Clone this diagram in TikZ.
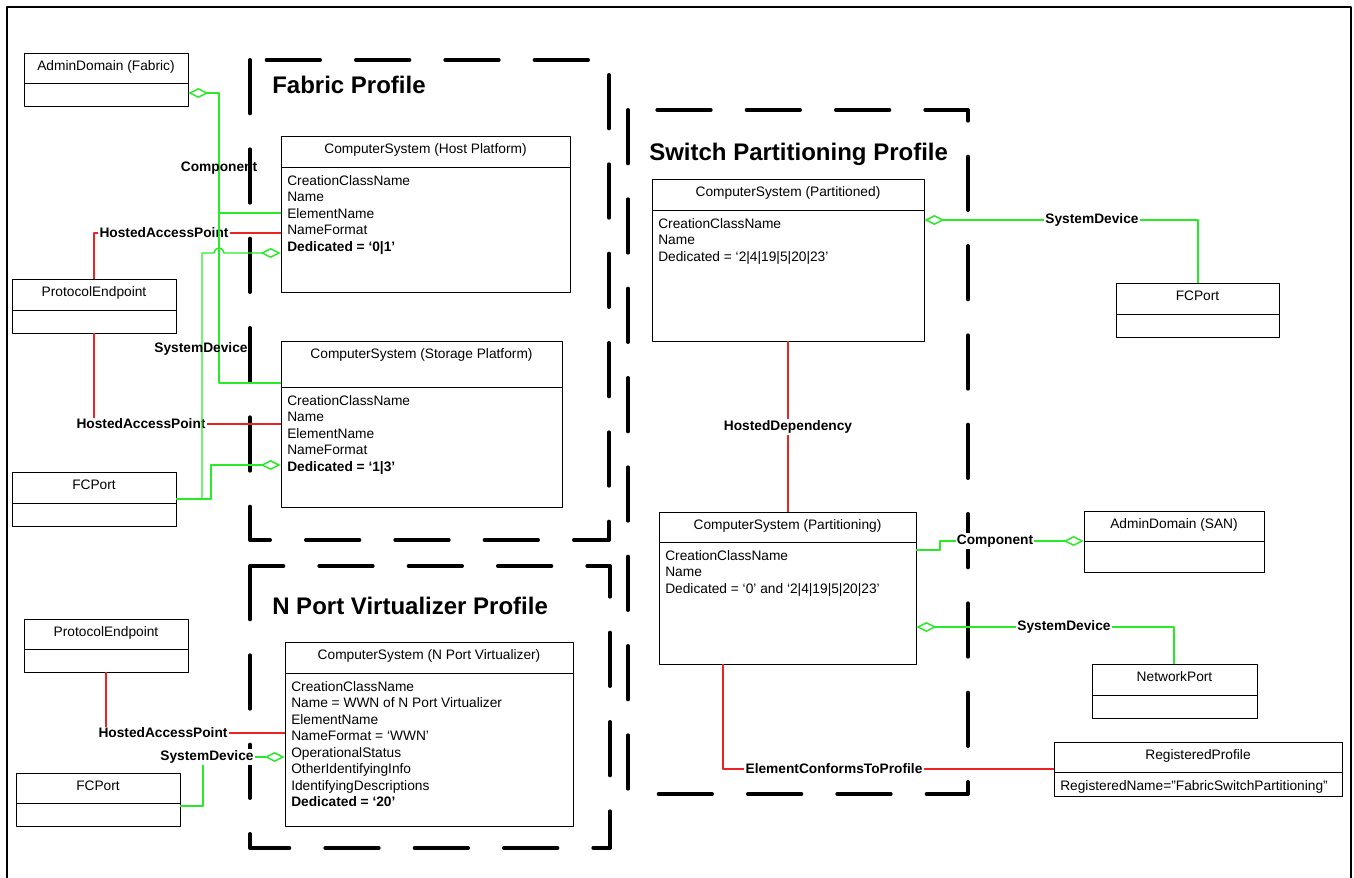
\documentclass[tikz,border=0pt]{standalone}
\usepackage{fontspec}
\setmainfont{Liberation Sans}
\usetikzlibrary{arrows.meta,fit}
\definecolor{assoc}{RGB}{40,235,40}
\definecolor{hosted}{RGB}{235,35,35}
\newcommand{\attrfont}{\fontsize{10.3}{12.4}\selectfont}
% class box: name, x1, y1, x2, y2, divider y, title, attributes
\newcommand{\umlclass}[8]{%
  \node[clsbox, fit={(#2,#3) (#4,#5)}] (#1) {};
  \draw[clsbox] (#2,#6) -- (#4,#6);
  \node[clstitle] (#1-title) at (#1.north) {#7};
  \node[clsattr] (#1-attr) at (#2,#6) {\strut #8};
}
\begin{document}
\begin{tikzpicture}[x=0.75pt, y=-0.75pt, line join=round,
  clsbox/.style={draw, line width=0.7pt, inner sep=0pt},
  clstitle/.style={anchor=base, yshift=-13.5pt, inner sep=0pt, font=\attrfont},
  clsattr/.style={anchor=north west, align=left, inner xsep=4.5pt, inner ysep=0pt, yshift=-4.8pt, font=\attrfont},
  profile/.style={line width=3pt, line cap=round, dash pattern=on 40pt off 27pt},
  ptitle/.style={anchor=base west, inner sep=0pt, font=\bfseries\fontsize{18}{22}\selectfont},
  hap/.style={draw=hosted, line width=1pt},
  sd/.style={draw=assoc, line width=1.1pt},
  aggs/.style={arrows={Diamond[open,length=15pt,width=7.5pt]-}},
  agge/.style={arrows={-Diamond[open,length=15pt,width=7.5pt]}},
  lbl/.style={font=\bfseries\attrfont, fill=white, inner sep=1pt}]
\useasboundingbox (0,0) rectangle (1354,878);
\draw[line width=1.5pt] (7,885) -- (7,7) -- (1351,7) -- (1351,885);

% profiles
\draw[profile] (250,60) rectangle (609,540);
\draw[profile] (250,566) rectangle (610,848);
\draw[profile] (628,110) rectangle (968,794);
\node[ptitle] (fabt) at (272,93) {Fabric Profile};
\node[ptitle] (npvt) at (272,614) {N Port Virtualizer Profile};
\node[ptitle] (swt) at (649,160) {Switch Partitioning Profile};

% classes
\foreach \nm/\xa/\ya/\xb/\yb/\yd/\ttl in {adf/24/53/188/106/83/AdminDomain (Fabric),
    pe1/12/279/176/333/310/ProtocolEndpoint, fc1/12/472/176/526/503/FCPort,
    pe2/24/619/188/672/649/ProtocolEndpoint, fc2/16/773/180/826/803/FCPort,
    fc3/1116/283/1279/337/314/FCPort, ads/1084/511/1264/572/541/AdminDomain (SAN),
    np/1092/664/1257/718/695/NetworkPort}
  \umlclass{\nm}{\xa}{\ya}{\xb}{\yb}{\yd}{\ttl}{};
\umlclass{hp}{281}{136}{570}{292}{167}{ComputerSystem (Host Platform)}
  {CreationClassName\\Name\\ElementName\\NameFormat\\\textbf{Dedicated = ‘0|1’}}
\umlclass{sp}{281}{341}{562}{507}{387}{ComputerSystem (Storage Platform)}
  {CreationClassName\\Name\\ElementName\\NameFormat\\\textbf{Dedicated = ‘1|3’}}
\umlclass{npv}{285}{642}{573}{826}{673}{ComputerSystem (N Port Virtualizer)}
  {CreationClassName\\Name = WWN of N Port Virtualizer\\ElementName\\NameFormat = ‘WWN’\\OperationalStatus\\OtherIdentifyingInfo\\IdentifyingDescriptions\\\textbf{Dedicated = ‘20’}}
\umlclass{pd}{652}{179}{924}{341}{210}{ComputerSystem (Partitioned)}
  {CreationClassName\\Name\\Dedicated = ‘2|4|19|5|20|23’}
\umlclass{pg}{659}{512}{916}{664}{542}{ComputerSystem (Partitioning)}
  {CreationClassName\\Name\\Dedicated = ‘0’ and ‘2|4|19|5|20|23’}
\umlclass{rp}{1054}{742}{1342}{796}{772}{RegisteredProfile}
  {RegisteredName="FabricSwitchPartitioning"}

% hosted access points
\draw[hap] (pe1.north) |- (hp.west |- 0,233);
\node[lbl] (hap1) at (164,233) {HostedAccessPoint};
\draw[hap] (pe1.south) |- (sp.west |- 0,424);
\node[lbl] (hap2) at (141,424) {HostedAccessPoint};
\draw[hap] (pe2.south) |- (npv.west |- 0,733);
\node[lbl] (hap3) at (163,733) {HostedAccessPoint};

% component and system device, fabric side
\coordinate (cjoin) at (219,213);
\draw[sd,aggs] (adf.east |- 0,93) -| (219,383) -- (sp.west |- 0,383);
\draw[sd] (cjoin) -- (hp.west |- 0,213);
\node[lbl, fill=none] (cmp1) at (219,168) {Component};
\draw[sd,agge] (fc1.east |- 0,499) -| (202,253) -- (214,253) arc[start angle=180, end angle=0, radius=3.75pt] -- (hp.west |- 0,253);
\draw[sd,agge] (fc1.east |- 0,499) -- (211,499) |- (sp.west |- 0,465);
\node[lbl, fill=none] (sd1) at (201,349) {SystemDevice};
\draw[sd,agge] (fc2.east |- 0,806) -| (203,757) -- (npv.west |- 0,757);
\node[lbl] (sd2) at (207,757) {SystemDevice};

% switch partitioning
\draw[hap] (pd.south -| 788,0) -- (pg.north -| 788,0);
\node[lbl] (hdep) at (788,427) {HostedDependency};
\draw[hap] (pg.south -| 723,0) |- (rp.west |- 0,769);
\node[lbl] (ectp) at (834,769) {ElementConformsToProfile};
\draw[sd,agge] (pg.east |- 0,550) -- (940,550) |- (ads.west |- 0,541);
\node[lbl] (cmp2) at (995,541) {Component};
\draw[sd,aggs] (pd.east |- 0,220) -| (fc3.north -| 1198,0);
\node[lbl] (sd3) at (1092,220) {SystemDevice};
\draw[sd,aggs] (pg.east |- 0,627) -| (np.north -| 1174,0);
\node[lbl] (sd4) at (1064,627) {SystemDevice};
\end{tikzpicture}
\end{document}
